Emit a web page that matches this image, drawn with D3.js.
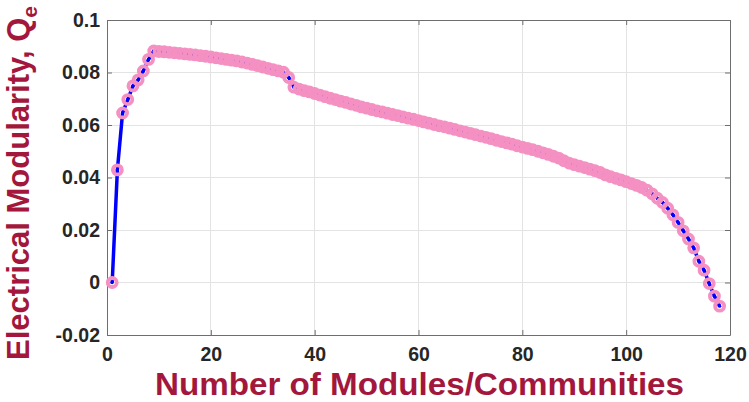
<!DOCTYPE html>
<html>
<head>
<meta charset="utf-8">
<script src="https://cdn.jsdelivr.net/npm/d3@7"></script>
<style>
  html, body { margin: 0; padding: 0; background: #fff; }
  svg { display: block; }
</style>
</head>
<body>
<svg id="chart" width="749" height="402"></svg>
<script>
// ---- data ----
const modules = d3.range(1, 119);
const modularity = [
  0.0000, 0.0429, 0.0646, 0.0697, 0.0749, 0.0772, 0.0806, 0.0850, 0.0882, 0.0880,
  0.0879, 0.0877, 0.0875, 0.0873, 0.0871, 0.0869, 0.0867, 0.0864, 0.0862, 0.0859,
  0.0856, 0.0853, 0.0850, 0.0847, 0.0844, 0.0840, 0.0836, 0.0831, 0.0826, 0.0821,
  0.0816, 0.0811, 0.0806, 0.0801, 0.0781, 0.0744, 0.0737, 0.0731, 0.0726, 0.0720,
  0.0714, 0.0708, 0.0702, 0.0697, 0.0691, 0.0686, 0.0680, 0.0675, 0.0669, 0.0664,
  0.0659, 0.0654, 0.0650, 0.0645, 0.0640, 0.0636, 0.0631, 0.0626, 0.0622, 0.0617,
  0.0612, 0.0607, 0.0602, 0.0597, 0.0593, 0.0588, 0.0583, 0.0578, 0.0573, 0.0568,
  0.0563, 0.0558, 0.0553, 0.0548, 0.0542, 0.0537, 0.0532, 0.0527, 0.0521, 0.0516,
  0.0511, 0.0506, 0.0500, 0.0494, 0.0488, 0.0481, 0.0474, 0.0464, 0.0455, 0.0449,
  0.0443, 0.0438, 0.0432, 0.0426, 0.0419, 0.0410, 0.0403, 0.0397, 0.0391, 0.0384,
  0.0377, 0.0370, 0.0362, 0.0352, 0.0338, 0.0321, 0.0305, 0.0283, 0.0258, 0.0229,
  0.0197, 0.0166, 0.0132, 0.0081, 0.0047, -0.0004, -0.0052, -0.0090
];
const xTicks = [0, 20, 40, 60, 80, 100, 120];
const xTickLabels = ["0", "20", "40", "60", "80", "100", "120"];
const yTicks = [-0.02, 0, 0.02, 0.04, 0.06, 0.08, 0.1];
const yTickLabels = ["-0.02", "0", "0.02", "0.04", "0.06", "0.08", "0.1"];
const xTitle = "Number of Modules/Communities";
const yTitle = "Electrical Modularity, Q";
const yTitleSub = "e";

// ---- layout ----
const W = 749, H = 402;
const m = { left: 107, top: 20, right: 19, bottom: 67 };
const iw = W - m.left - m.right, ih = H - m.top - m.bottom;
const titleColor = "#a3173c";
const textColor = "#262626";
const pink = "#f590c3";
const blue = "#0000ff";
const font = "'Liberation Sans', Arial, sans-serif";

const svg = d3.select("#chart");
const g = svg.append("g").attr("transform", `translate(${m.left},${m.top})`);

const x = d3.scaleLinear().domain([0, 120]).range([0, iw]);
const y = d3.scaleLinear().domain([-0.02, 0.1]).range([ih, 0]);

// grid
g.append("g").selectAll("line").data(xTicks).join("line")
  .attr("x1", d => x(d)).attr("x2", d => x(d)).attr("y1", 0).attr("y2", ih)
  .attr("stroke", "#e3e3e3").attr("stroke-width", 1).attr("shape-rendering", "crispEdges");
g.append("g").selectAll("line").data(yTicks).join("line")
  .attr("y1", d => y(d)).attr("y2", d => y(d)).attr("x1", 0).attr("x2", iw)
  .attr("stroke", "#e3e3e3").attr("stroke-width", 1).attr("shape-rendering", "crispEdges");

// axes
const tickLen = 5;
const xAxisB = d3.axisBottom(x).tickValues(xTicks).tickFormat((d, i) => xTickLabels[i]).tickSizeInner(-tickLen).tickSizeOuter(0).tickPadding(12);
const yAxisL = d3.axisLeft(y).tickValues(yTicks).tickFormat((d, i) => yTickLabels[i]).tickSizeInner(-tickLen).tickSizeOuter(0).tickPadding(7);
const xAxisT = d3.axisTop(x).tickValues(xTicks).tickFormat("").tickSizeInner(-tickLen).tickSizeOuter(0);
const yAxisR = d3.axisRight(y).tickValues(yTicks).tickFormat("").tickSizeInner(-tickLen).tickSizeOuter(0);

function styleAxis(sel) {
  sel.select(".domain").attr("stroke", "#6e6e6e").attr("stroke-width", 1);
  sel.selectAll(".tick line").attr("stroke", "#6e6e6e").attr("stroke-width", 1);
  sel.selectAll(".tick text").attr("fill", textColor).attr("font-family", font)
    .attr("font-weight", "bold").attr("font-size", 19.5);
}
g.append("g").attr("transform", `translate(0,${ih})`).call(xAxisB).call(styleAxis);
g.append("g").call(yAxisL).call(styleAxis);
g.append("g").call(xAxisT).call(styleAxis);
g.append("g").attr("transform", `translate(${iw},0)`).call(yAxisR).call(styleAxis);

// data series
const pts = modules.map((k, i) => ({ k, v: modularity[i] }));
const line = d3.line().x(d => x(d.k)).y(d => y(d.v));
g.append("path").datum(pts).attr("d", line)
  .attr("fill", "none").attr("stroke", blue).attr("stroke-width", 3.5).attr("stroke-linejoin", "round");
g.append("g").selectAll("circle").data(pts).join("circle")
  .attr("cx", d => x(d.k)).attr("cy", d => y(d.v)).attr("r", 1.7).attr("fill", blue);
g.append("g").selectAll("circle").data(pts).join("circle")
  .attr("cx", d => x(d.k)).attr("cy", d => y(d.v)).attr("r", 4.5)
  .attr("fill", "none").attr("stroke", pink).attr("stroke-width", 3.8);

// titles
svg.append("text").attr("x", m.left + iw / 2 + 1).attr("y", 395)
  .attr("text-anchor", "middle").attr("fill", titleColor).attr("font-family", font)
  .attr("font-weight", "bold").attr("font-size", 32)
  .attr("textLength", 529).attr("lengthAdjust", "spacingAndGlyphs").text(xTitle);

const yt = svg.append("text").attr("transform", `translate(29,183) rotate(-90)`)
  .attr("text-anchor", "middle").attr("fill", titleColor).attr("font-family", font)
  .attr("font-weight", "bold").attr("font-size", 31);
yt.append("tspan").text(yTitle);
yt.append("tspan").attr("font-size", 21).attr("dy", 8).text(yTitleSub);
</script>
</body>
</html>
